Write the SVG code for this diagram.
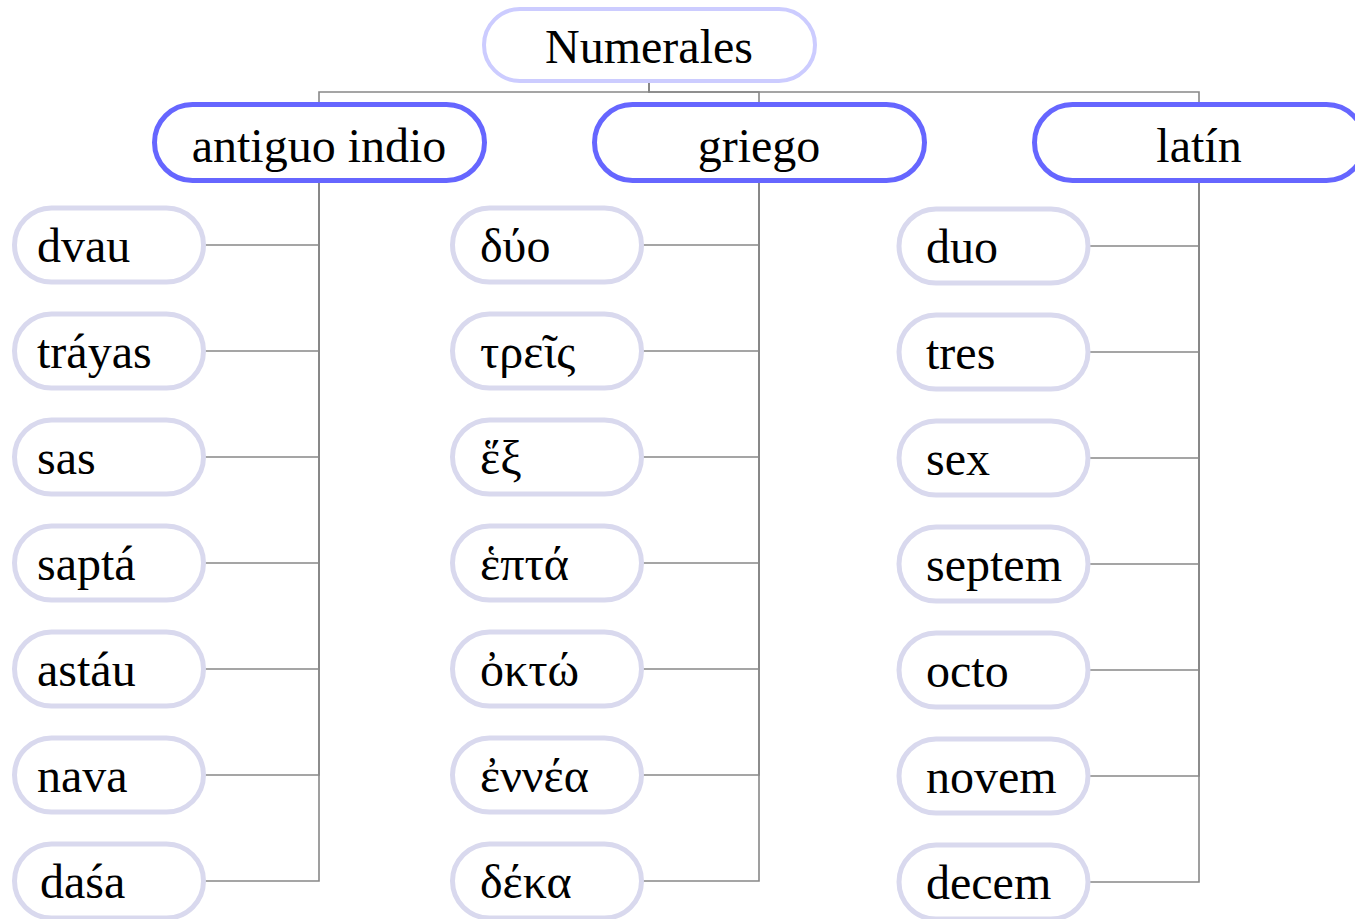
<svg xmlns="http://www.w3.org/2000/svg" width="1355" height="919" viewBox="0 0 1355 919">
<style>
text{font-family:"Liberation Serif","DejaVu Serif",serif;font-size:48px;fill:#000}
.root rect{fill:#fff;stroke:#ccccff;stroke-width:4}
.cat rect{fill:#fff;stroke:#6666ff;stroke-width:5}
.leaf rect{fill:#fff;stroke:#d9d9ee;stroke-width:5}
.mid{text-anchor:middle}
#connectors path{fill:none;stroke:#888;stroke-width:1.6}
</style>
<rect width="1355" height="919" fill="#fff"/>
<g id="connectors">
<path d="M649,81 V92 H319 V104"/>
<path d="M649,81 V92 H759 V104"/>
<path d="M649,81 V92 H1199 V104"/>
<path d="M319,182 V245 H205"/>
<path d="M319,182 V351 H205"/>
<path d="M319,182 V457 H205"/>
<path d="M319,182 V563 H205"/>
<path d="M319,182 V669 H205"/>
<path d="M319,182 V775 H205"/>
<path d="M319,182 V881 H205"/>
<path d="M759,182 V245 H643"/>
<path d="M759,182 V351 H643"/>
<path d="M759,182 V457 H643"/>
<path d="M759,182 V563 H643"/>
<path d="M759,182 V669 H643"/>
<path d="M759,182 V775 H643"/>
<path d="M759,182 V881 H643"/>
<path d="M1199,182 V246 H1090"/>
<path d="M1199,182 V352 H1090"/>
<path d="M1199,182 V458 H1090"/>
<path d="M1199,182 V564 H1090"/>
<path d="M1199,182 V670 H1090"/>
<path d="M1199,182 V776 H1090"/>
<path d="M1199,182 V882 H1090"/>
</g>
<g id="root" class="root"><rect x="484" y="9" width="331" height="72" rx="36"/><text class="mid" x="649" y="63">Numerales</text></g>
<g id="cat-indio" class="cat"><rect x="154.5" y="104.5" width="330" height="76" rx="38"/><text class="mid" x="319" y="162">antiguo indio</text></g>
<g id="cat-griego" class="cat"><rect x="594.5" y="104.5" width="330" height="76" rx="38"/><text class="mid" x="759" y="162">griego</text></g>
<g id="cat-latin" class="cat"><rect x="1034.5" y="104.5" width="330" height="76" rx="38"/><text class="mid" x="1199" y="162">latín</text></g>

<g id="indio-2" class="leaf"><rect x="14.5" y="208" width="189" height="74" rx="37"/><text x="37" y="262">dvau</text></g>
<g id="indio-3" class="leaf"><rect x="14.5" y="314" width="189" height="74" rx="37"/><text x="37" y="368">tráyas</text></g>
<g id="indio-6" class="leaf"><rect x="14.5" y="420" width="189" height="74" rx="37"/><text x="37" y="474">sas</text></g>
<g id="indio-7" class="leaf"><rect x="14.5" y="526" width="189" height="74" rx="37"/><text x="37" y="580">saptá</text></g>
<g id="indio-8" class="leaf"><rect x="14.5" y="632" width="189" height="74" rx="37"/><text x="37" y="686">astáu</text></g>
<g id="indio-9" class="leaf"><rect x="14.5" y="738" width="189" height="74" rx="37"/><text x="37" y="792">nava</text></g>
<g id="indio-10" class="leaf"><rect x="14.5" y="844" width="189" height="74" rx="37"/><text x="40" y="898">daśa</text></g>

<g id="griego-2" class="leaf"><rect x="452.5" y="208" width="189" height="74" rx="37"/><text x="480" y="262">δύο</text></g>
<g id="griego-3" class="leaf"><rect x="452.5" y="314" width="189" height="74" rx="37"/><text x="480" y="368">τρεῖς</text></g>
<g id="griego-6" class="leaf"><rect x="452.5" y="420" width="189" height="74" rx="37"/><text x="480" y="474">ἕξ</text></g>
<g id="griego-7" class="leaf"><rect x="452.5" y="526" width="189" height="74" rx="37"/><text x="480" y="580">ἑπτά</text></g>
<g id="griego-8" class="leaf"><rect x="452.5" y="632" width="189" height="74" rx="37"/><text x="480" y="686">ὀκτώ</text></g>
<g id="griego-9" class="leaf"><rect x="452.5" y="738" width="189" height="74" rx="37"/><text x="480" y="792">ἐννέα</text></g>
<g id="griego-10" class="leaf"><rect x="452.5" y="844" width="189" height="74" rx="37"/><text x="480" y="898">δέκα</text></g>

<g id="latin-2" class="leaf"><rect x="899" y="209" width="189" height="74" rx="37"/><text x="926" y="263">duo</text></g>
<g id="latin-3" class="leaf"><rect x="899" y="315" width="189" height="74" rx="37"/><text x="926" y="369">tres</text></g>
<g id="latin-6" class="leaf"><rect x="899" y="421" width="189" height="74" rx="37"/><text x="926" y="475">sex</text></g>
<g id="latin-7" class="leaf"><rect x="899" y="527" width="189" height="74" rx="37"/><text x="926" y="581">septem</text></g>
<g id="latin-8" class="leaf"><rect x="899" y="633" width="189" height="74" rx="37"/><text x="926" y="687">octo</text></g>
<g id="latin-9" class="leaf"><rect x="899" y="739" width="189" height="74" rx="37"/><text x="926" y="793">novem</text></g>
<g id="latin-10" class="leaf"><rect x="899" y="845" width="189" height="74" rx="37"/><text x="926" y="899">decem</text></g>
</svg>
